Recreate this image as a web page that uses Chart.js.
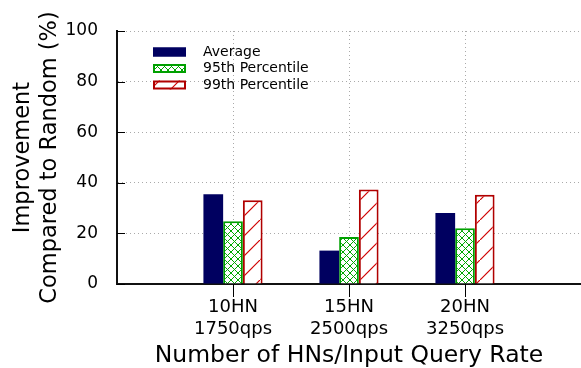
<!DOCTYPE html>
<html>
<head>
<meta charset="utf-8">
<script src="https://cdn.jsdelivr.net/npm/chart.js@4"></script>
<style>
  body { margin: 0; background: #fff; }
  #wrap { width: 581px; height: 368px; }
</style>
</head>
<body>
<div id="wrap"><canvas id="grafico" width="581" height="368"></canvas></div>
<script>
// dados
const categorias = [['10HN', '1750qps'], ['15HN', '2500qps'], ['20HN', '3250qps']];
const media = [35.5, 13.2, 28.1];
const p95 = [24.8, 18.6, 22.0];
const p99 = [33.1, 37.4, 35.3];
const ticksY = [0, 20, 40, 60, 80, 100];

const FONTE = 'DejaVu Sans';

// padrões de preenchimento (hachuras)
function padraoCruzado(cor) {
  const c = document.createElement('canvas');
  c.width = 7; c.height = 7;
  const g = c.getContext('2d');
  g.fillStyle = '#fff';
  g.fillRect(0, 0, 7, 7);
  g.strokeStyle = cor;
  g.lineWidth = 1;
  g.beginPath();
  g.moveTo(0, 0); g.lineTo(7, 7);
  g.moveTo(0, 7); g.lineTo(7, 0);
  g.stroke();
  return g.createPattern(c, 'repeat');
}

function padraoDiagonal(cor) {
  const c = document.createElement('canvas');
  c.width = 20; c.height = 20;
  const g = c.getContext('2d');
  g.fillStyle = '#fff';
  g.fillRect(0, 0, 20, 20);
  g.strokeStyle = cor;
  g.lineWidth = 1.2;
  g.beginPath();
  g.moveTo(-2, 22); g.lineTo(22, -2);
  g.stroke();
  return g.createPattern(c, 'repeat');
}

// rótulos com posições vazias nas pontas (eixo vai de 0 a 4)
const rotulos = ['', ...categorias, ''];
const comPontas = arr => [null, ...arr, null];
const soMeio = (cor) => (c) => (c.index === 0 || c.index === rotulos.length - 1) ? 'rgba(0,0,0,0)' : cor;

// ticks dos eixos (y para dentro, x para baixo) + legenda
const extras = {
  id: 'extras',
  afterDraw(chart) {
    const ctx = chart.ctx;
    const x = chart.scales.x;
    const y = chart.scales.y;
    const area = chart.chartArea;
    ctx.save();
    ctx.strokeStyle = '#000';
    ctx.lineWidth = 1;
    ticksY.forEach(v => {
      const py = Math.round(y.getPixelForValue(v)) + 0.5;
      ctx.beginPath();
      ctx.moveTo(area.left, py);
      ctx.lineTo(area.left + 8, py);
      ctx.stroke();
    });
    for (let i = 1; i < rotulos.length - 1; i++) {
      const px = Math.round(x.getPixelForTick(i)) + 0.5;
      ctx.beginPath();
      ctx.moveTo(px, area.bottom);
      ctx.lineTo(px, area.bottom + 13);
      ctx.stroke();
    }

    // legenda
    ctx.font = '14px "' + FONTE + '"';
    ctx.textBaseline = 'middle';
    chart.data.datasets.forEach((ds, i) => {
      const bx = 153, by = 47.5 + i * 16.5;
      ctx.fillStyle = ds.backgroundColor;
      ctx.fillRect(bx, by, 33, 9);
      ctx.strokeStyle = ds.borderColor;
      ctx.lineWidth = 2;
      ctx.strokeRect(bx + 1, by + 1, 31, 7);
      ctx.fillStyle = '#000';
      ctx.fillText(ds.label, 203, by + 4.5);
    });
    ctx.restore();
  }
};

const ctx = document.getElementById('grafico').getContext('2d');
new Chart(ctx, {
  type: 'bar',
  data: {
    labels: rotulos,
    datasets: [
      {
        label: 'Average',
        data: comPontas(media),
        backgroundColor: '#000060',
        borderColor: '#000060',
        borderWidth: 0,
      },
      {
        label: '95th Percentile',
        data: comPontas(p95),
        backgroundColor: padraoCruzado('#00a800'),
        borderColor: '#00a000',
        borderWidth: 2,
      },
      {
        label: '99th Percentile',
        data: comPontas(p99),
        backgroundColor: padraoDiagonal('#d00000'),
        borderColor: '#b00000',
        borderWidth: 2,
      },
    ],
  },
  options: {
    responsive: false,
    animation: false,
    devicePixelRatio: 1,
    layout: { padding: { top: 31, right: 0, left: 0, bottom: 0 } },
    categoryPercentage: 0.51,
    barPercentage: 1.0,
    plugins: {
      legend: { display: false },
      tooltip: { enabled: false },
    },
    scales: {
      x: {
        offset: false,
        grid: {
          offset: false,
          color: soMeio('#aaaaaa'),
          tickColor: 'rgba(0,0,0,0)',
          tickLength: 13,
        },
        border: { color: '#111', width: 2, dash: [1, 3] },
        ticks: {
          color: '#000',
          font: { family: FONTE, size: 18, lineHeight: 1.25 },
          padding: -1,
          maxRotation: 0,
          autoSkip: false,
        },
        title: {
          display: true,
          text: 'Number of HNs/Input Query Rate',
          color: '#000',
          font: { family: FONTE, size: 23.5, lineHeight: 1.0 },
          padding: { top: 0, bottom: 0 },
        },
        afterFit(scale) { scale.height = 84; },
      },
      y: {
        min: 0,
        max: 100,
        ticks: {
          stepSize: 20,
          color: '#000',
          font: { family: FONTE, size: 17 },
          padding: 19,
        },
        grid: {
          color: '#aaaaaa',
          drawTicks: false,
        },
        border: { color: '#111', width: 2, dash: [1, 3] },
        title: {
          display: true,
          text: ['Improvement', 'Compared to Random (%)'],
          color: '#000',
          font: { family: FONTE, size: 22.5, lineHeight: 1.2 },
          padding: { top: 10, bottom: 0 },
        },
        afterFit(scale) { scale.width = 117; },
      },
    },
  },
  plugins: [extras],
});
</script>
</body>
</html>
